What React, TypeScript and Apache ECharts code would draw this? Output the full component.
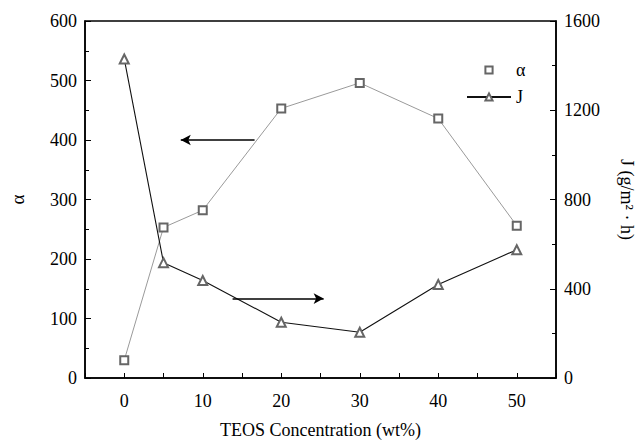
import React, { useEffect, useRef } from "react";
import * as echarts from "echarts";

const teos = [0, 5, 10, 20, 30, 40, 50];
const alphaValues = [30, 253, 282, 453, 496, 436, 256];
const fluxValues = [1430, 517, 437, 250, 205, 419, 575];
const xTicks = [0, 10, 20, 30, 40, 50];

const FONT = "'Liberation Serif', 'DejaVu Serif', serif";

export default function App() {
  const ref = useRef<HTMLDivElement>(null);
  useEffect(() => {
    if (!ref.current) return;
    const chart = echarts.init(ref.current, null, { renderer: "svg" });
    const axisLine = { show: true, onZero: false, lineStyle: { color: "#000", width: 1.5 } };
    const txt = { fontFamily: FONT, color: "#000" };
    chart.setOption({
      animation: false,
      backgroundColor: "#fff",
      textStyle: { fontFamily: FONT },
      grid: {
        left: 78,
        right: 82,
        top: 21,
        bottom: 64,
        show: true,
        borderColor: "#000",
        borderWidth: 1.5,
      },
      legend: {
        orient: "vertical",
        left: 461,
        top: 56,
        itemWidth: 44,
        itemHeight: 9,
        itemGap: 9,
        textStyle: { ...txt, fontSize: 18 },
        data: [
          { name: "α", lineStyle: { opacity: 0 } },
          { name: "J" },
        ],
      },
      xAxis: {
        type: "value",
        min: -5,
        max: 55,
        interval: 5,
        name: "TEOS Concentration (wt%)",
        nameLocation: "middle",
        nameGap: 43,
        nameTextStyle: { ...txt, fontSize: 18 },
        axisLine,
        axisTick: { show: true, inside: true, length: 5, lineStyle: { color: "#000" } },
        axisLabel: {
          ...txt,
          fontSize: 18,
          margin: 14,
          formatter: (v: number) => (xTicks.includes(v) ? String(v) : ""),
        },
        splitLine: { show: false },
      },
      yAxis: [
        {
          type: "value",
          min: 0,
          max: 600,
          interval: 100,
          name: "α",
          nameLocation: "middle",
          nameGap: 58,
          nameTextStyle: { ...txt, fontSize: 19 },
          axisLine,
          axisTick: { show: true, inside: true, length: 6, lineStyle: { color: "#000" } },
          minorTick: { show: true, splitNumber: 2, length: 4, lineStyle: { color: "#000" } },
          axisLabel: { ...txt, fontSize: 18, margin: 8, formatter: (v: number) => String(v) },
          splitLine: { show: false },
        },
        {
          type: "value",
          min: 0,
          max: 1600,
          interval: 400,
          name: "J (g/m² · h)",
          nameLocation: "middle",
          nameRotate: -90,
          nameGap: 62,
          nameTextStyle: { ...txt, fontSize: 18 },
          axisLine,
          axisTick: { show: true, inside: true, length: 6, lineStyle: { color: "#000" } },
          minorTick: { show: true, splitNumber: 2, length: 4, lineStyle: { color: "#000" } },
          axisLabel: { ...txt, fontSize: 18, margin: 8, formatter: (v: number) => String(v) },
          splitLine: { show: false },
        },
      ],
      series: [
        {
          name: "α",
          type: "line",
          yAxisIndex: 0,
          data: teos.map((x, i) => [x, alphaValues[i]]),
          symbol: "emptyRect",
          symbolSize: 8,
          showAllSymbol: true,
          lineStyle: { color: "#9a9a9a", width: 1 },
          itemStyle: { color: "#666", borderWidth: 1 },
          markLine: {
            silent: true,
            symbol: ["none", "arrow"],
            symbolSize: [8, 10],
            label: { show: false },
            lineStyle: { color: "#000", width: 1.5, type: "solid" },
            data: [[{ coord: [16.6, 400] }, { coord: [7.2, 400] }]],
          },
        },
        {
          name: "J",
          type: "line",
          yAxisIndex: 1,
          data: teos.map((x, i) => [x, fluxValues[i]]),
          symbol: "emptyTriangle",
          symbolSize: 9,
          showAllSymbol: true,
          lineStyle: { color: "#111", width: 1.1 },
          itemStyle: { color: "#666", borderWidth: 1 },
          markLine: {
            silent: true,
            symbol: ["none", "arrow"],
            symbolSize: [8, 10],
            label: { show: false },
            lineStyle: { color: "#000", width: 1.5, type: "solid" },
            data: [[{ coord: [13.8, 356] }, { coord: [25.4, 356] }]],
          },
        },
      ],
    });
    return () => chart.dispose();
  }, []);
  return (
    <div
      ref={ref}
      style={{ position: "fixed", left: 0, top: 0, width: 644, height: 444 }}
    />
  );
}
